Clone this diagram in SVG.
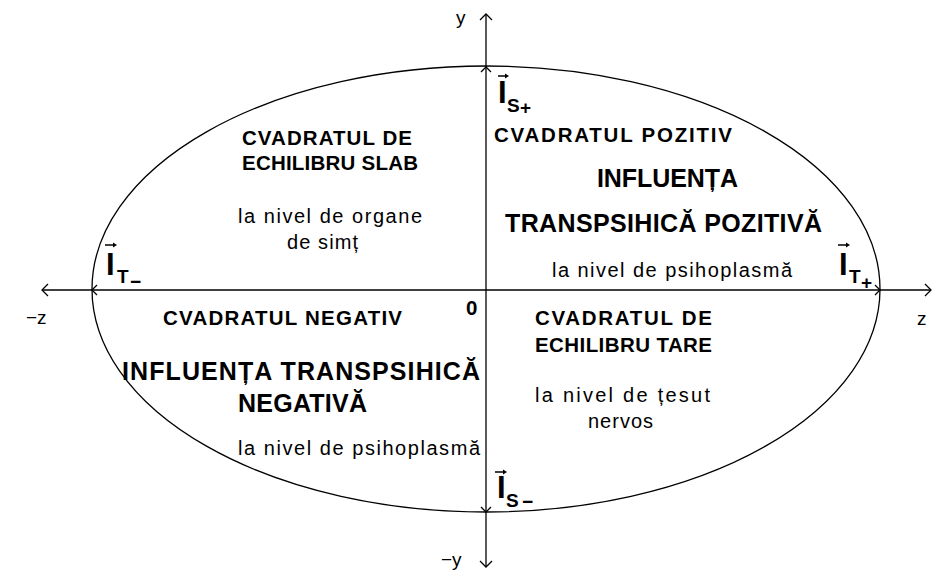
<svg xmlns="http://www.w3.org/2000/svg" width="944" height="575" viewBox="0 0 944 575">
<style>
.ln{fill:none;stroke:#000;stroke-width:1.3}
.hd{font-family:"Liberation Sans",Arial,sans-serif;font-weight:bold;font-size:20.5px;fill:#000}
.big{font-family:"Liberation Sans",Arial,sans-serif;font-weight:bold;font-size:25px;fill:#000}
.sm{font-family:"Liberation Sans",Arial,sans-serif;font-size:20px;fill:#000}
.vi{font-family:"Liberation Sans",Arial,sans-serif;font-weight:bold;font-size:31px;fill:#000}
.sub{font-family:"Liberation Sans",Arial,sans-serif;font-weight:bold;font-size:19px;fill:#000}
.ax{font-family:"Liberation Sans",Arial,sans-serif;font-size:19px;fill:#000}
.va{stroke:#000;stroke-width:1.5;fill:none}
</style>
<rect width="944" height="575" fill="#fff"/>
<g id="ellipse">
<ellipse cx="486" cy="289" rx="394" ry="223" class="ln"/>
</g>
<g id="connectors">
<line x1="42" y1="290" x2="931" y2="290" class="ln"/>
<line x1="486" y1="14" x2="486" y2="567" class="ln"/>
<polyline points="48,284 42,290 48,296" class="ln"/>
<polyline points="925,284 931,290 925,296" class="ln"/>
<polyline points="480,20 486,14 492,20" class="ln"/>
<polyline points="480,561 486,567 492,561" class="ln"/>
<polyline points="481,72 486,67 491,72" class="ln"/>
<polyline points="481,507 486,512 491,507" class="ln"/>
<polyline points="97,285 92,290 97,295" class="ln"/>
<polyline points="875,285 880,290 875,295" class="ln"/>
</g>
<g id="axis-labels">
<text x="456" y="24" class="ax">y</text>
<text x="441" y="566" class="ax">−y</text>
<text x="26" y="324" class="ax">−z</text>
<text x="917" y="325" class="ax">z</text>
<text x="466" y="315" class="hd" font-size="18">0</text>
</g>
<g id="vec-IS-plus">
<line x1="498" y1="76" x2="507" y2="76" class="va"/>
<polygon points="505,73.5 509,76 505,78.5"/>
<text x="498" y="103" class="vi">I</text>
<text x="507" y="112" class="sub">S</text>
<text x="520" y="114" class="sub" font-size="16">+</text>
</g>
<g id="vec-IS-minus">
<line x1="495" y1="472" x2="505" y2="472" class="va"/>
<polygon points="503,469.5 507,472 503,474.5"/>
<text x="497" y="498" class="vi">I</text>
<text x="506" y="507" class="sub">S</text>
<text x="522" y="508" class="sub" font-size="16">−</text>
</g>
<g id="vec-IT-plus">
<line x1="838" y1="245" x2="848" y2="245" class="va"/>
<polygon points="846,242.5 850,245 846,247.5"/>
<text x="839" y="275" class="vi">I</text>
<text x="849" y="283" class="sub">T</text>
<text x="861" y="289" class="sub" font-size="16">+</text>
</g>
<g id="vec-IT-minus">
<line x1="105" y1="245" x2="115" y2="245" class="va"/>
<polygon points="113,242.5 117,245 113,247.5"/>
<text x="106" y="275" class="vi">I</text>
<text x="117" y="283" class="sub">T</text>
<text x="130" y="288" class="sub" font-size="16">−</text>
</g>
<g id="q-slab">
<text x="242" y="145" class="hd" textLength="170">CVADRATUL DE</text>
<text x="242" y="170" class="hd" textLength="176">ECHILIBRU SLAB</text>
<text x="238" y="223" class="sm" textLength="184">la nivel de organe</text>
<text x="287" y="249" class="sm" textLength="71">de simț</text>
</g>
<g id="q-pozitiv">
<text x="494" y="142" class="hd" textLength="238">CVADRATUL POZITIV</text>
<text x="597" y="187" class="big" textLength="141">INFLUENȚA</text>
<text x="505" y="232" class="big" textLength="317">TRANSPSIHICĂ POZITIVĂ</text>
<text x="552" y="277" class="sm" textLength="240">la nivel de psihoplasmă</text>
</g>
<g id="q-negativ">
<text x="163" y="325" class="hd" textLength="239">CVADRATUL NEGATIV</text>
<text x="122" y="380" class="big" textLength="358">INFLUENȚA TRANSPSIHICĂ</text>
<text x="238" y="412" class="big" textLength="129">NEGATIVĂ</text>
<text x="238" y="455" class="sm" textLength="242">la nivel de psihoplasmă</text>
</g>
<g id="q-tare">
<text x="535" y="325" class="hd" textLength="177">CVADRATUL DE</text>
<text x="535" y="352" class="hd" textLength="177">ECHILIBRU TARE</text>
<text x="535" y="402" class="sm" textLength="175">la nivel de țesut</text>
<text x="588" y="428" class="sm" textLength="65">nervos</text>
</g>
</svg>
